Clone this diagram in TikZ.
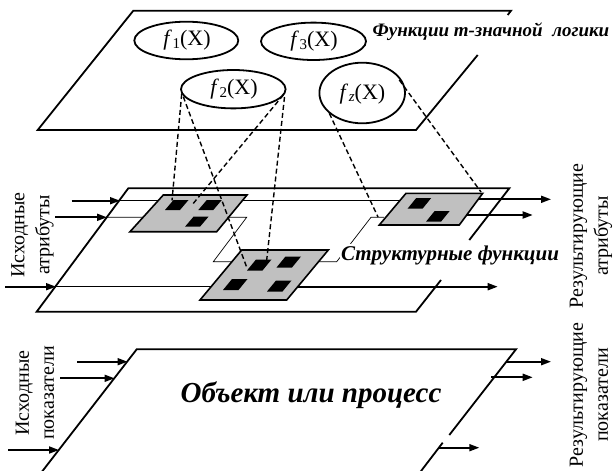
\documentclass[tikz,border=0pt]{standalone}
\usepackage{fontspec}
\setmainfont{Liberation Serif}
\usetikzlibrary{arrows.meta}
\newcommand{\fsub}[1]{\textit{f}\kern0.5pt\raisebox{-2.5pt}{\fontsize{15}{15}\selectfont #1}(X)}
\begin{document}
\begin{tikzpicture}[x=1pt,y=-1pt,
  plane/.style={line width=1.8pt, line join=miter},
  thinl/.style={line width=0.7pt},
  boxg/.style={draw=black, line width=1.6pt, fill={rgb,255:red,192;green,192;blue,192}, line join=miter},
  dl/.style={line width=1.4pt, dash pattern=on 5pt off 3pt},
  arr/.style={line width=1.8pt, -{Triangle[length=10pt,width=7pt]}},
  fell/.style={line width=1.8pt},
  lbl/.style={font=\fontsize{20}{25}\selectfont, align=center, inner sep=0pt},
  bi/.style={font=\bfseries\itshape, inner sep=0pt},
]
\clip (0,0) rectangle (616,471);
\fill[white] (0,0) rectangle (616,471);

% ---------- top plane ----------
\draw[plane] (507.7,15) -- (511,10.7) -- (133.3,10.7) -- (37.7,130) -- (416,130) -- (477.7,55);
\node[bi, font=\fontsize{19}{20}\selectfont\bfseries\itshape] (tlabel) at (491,31.5) {Функции m-значной\ \ логики};

\draw[fell] (186.3,40.5) ellipse [x radius=52, y radius=18.8];
\node[font=\fontsize{22}{24}\selectfont, inner sep=0pt] (f1) at (187,40.5) {\fsub{1}};
\draw[fell] (313.5,41.3) ellipse [x radius=52.5, y radius=18.7];
\node[font=\fontsize{22}{24}\selectfont, inner sep=0pt] (f3) at (314,41.3) {\fsub{3}};
\draw[fell] (233.3,89.2) ellipse [x radius=52.3, y radius=19.2];
\node[font=\fontsize{22}{24}\selectfont, inner sep=0pt] (f2) at (234,89.2) {\fsub{2}};
\draw[fell] (362.2,93) ellipse [x radius=42.8, y radius=30.3];
\node[font=\fontsize{22}{24}\selectfont, inner sep=0pt] (fz) at (362.5,94) {\fsub{\textit{z}}};

\coordinate (f2L1) at (181.7,94);
\coordinate (f2L2) at (183.3,96.7);
\coordinate (f2R1) at (283.3,95);
\coordinate (f2R2) at (284.5,97);
\coordinate (fzL) at (329.3,113.3);
\coordinate (fzR) at (399.3,80);

% ---------- middle plane ----------
\draw[plane] (469.3,240) -- (509.3,188.3) -- (128.3,188.3) -- (36.7,311.7) -- (416,311.7) -- (441,280);

% thin structural lines
\draw[thinl] (119,200.7) -- (400,200.7);
\draw[thinl] (106.8,217.3) -- (246.7,217.3) -- (213.3,261.7) -- (336.7,261.7) -- (371,217.3) -- (384,217.3);
\draw[thinl] (55.3,286.7) -- (240,286.7);

% gray boxes
\draw[boxg] (130,231.7) -- (216.7,231.7) -- (247,195) -- (163.3,195) -- cycle;
\draw[boxg] (200,300) -- (286.7,300) -- (328.3,250) -- (241.7,250) -- cycle;
\draw[boxg] (379.3,225) -- (459.3,225) -- (482.7,193.3) -- (406,193.3) -- cycle;

% black squares
\foreach \p in {(165,210),(198.3,210),(185,226.7)}
  \fill \p -- ++(15,0) -- ++(8.5,-10) -- ++(-15,0) -- cycle;
\foreach \p in {(247,270.5),(276.5,267.5),(223,290),(267,291.5)}
  \fill \p -- ++(15.5,0) -- ++(9,-11) -- ++(-15.5,0) -- cycle;
\foreach \p in {(407.7,208.5),(426,221.7)}
  \fill \p -- ++(15,0) -- ++(8.5,-10.5) -- ++(-15,0) -- cycle;

\coordinate (u1) at (172,200.5);
\coordinate (u2) at (192,205);
\coordinate (l1) at (247,268);
\coordinate (l2) at (266.7,260);
\coordinate (r1) at (378,217);
\coordinate (r2) at (481,192);

% dashed links
\draw[dl] (f2L1) -- (u1);
\draw[dl] (f2L2) -- (l1);
\draw[dl] (f2R1) -- (u2);
\draw[dl] (f2R2) -- (l2);
\draw[dl] (fzL) -- (r1);
\draw[dl] (fzR) -- (r2);

% middle arrows
\coordinate (mi1) at (71.7,200.7);  \coordinate (me1) at (120,200.7);
\coordinate (mi2) at (55,217.3);    \coordinate (me2) at (107,217.3);
\coordinate (mi3) at (5,286.7);     \coordinate (me3) at (56,286.7);
\draw[arr] (mi1) -- (me1);
\draw[arr] (mi2) -- (me2);
\draw[arr] (mi3) -- (me3);
\coordinate (mo1) at (478.5,199.3); \coordinate (mt1) at (551,199.3);
\coordinate (mo2) at (466.7,215);   \coordinate (mt2) at (532.7,215);
\coordinate (mo3) at (297.5,286.7); \coordinate (mt3) at (497.7,286.7);
\draw[arr] (mo1) -- (mt1);
\draw[arr] (mo2) -- (mt2);
\draw[arr] (mo3) -- (mt3);

\node[bi, font=\fontsize{21}{22}\selectfont\bfseries\itshape, fill=white, inner sep=1pt] (slabel) at (450,255) {Структурные функции};

% ---------- bottom plane ----------
\draw[plane] (449.3,435) -- (516,349.3) -- (136.7,349.3) -- (39.4,475);
\draw[plane] (442.7,442.7) -- (418,475);
\node[bi, font=\fontsize{29}{31}\selectfont\bfseries\itshape] (obj) at (311,395) {Объект или процесс};

\coordinate (bi1) at (77.3,361.7); \coordinate (be1) at (127.5,361.7);
\coordinate (bi2) at (60,378.3);   \coordinate (be2) at (114.5,378.3);
\coordinate (bi3) at (8.3,450);    \coordinate (be3) at (59,450);
\draw[arr] (bi1) -- (be1);
\draw[arr] (bi2) -- (be2);
\draw[arr] (bi3) -- (be3);
\coordinate (bo1) at (506.4,361.7); \coordinate (bt1) at (551,361.7);
\coordinate (bo2) at (491,377.3);   \coordinate (bt2) at (532.7,377.3);
\coordinate (bo3) at (439.3,447.7); \coordinate (bt3) at (479.3,447.7);
\draw[arr] (bo1) -- (bt1);
\draw[arr] (bo2) -- (bt2);
\draw[arr] (bo3) -- (bt3);

% ---------- rotated labels ----------
\node[lbl, rotate=90] (inattr) at (32.5,235) {Исходные\\атрибуты};
\node[lbl, rotate=90] (outattr) at (591,236) {Результирующие\\атрибуты};
\node[lbl, rotate=90] (inpok) at (35,393) {Исходные\\показатели};
\node[lbl, rotate=90] (outpok) at (589,395) {Результирующие\\показатели};
\end{tikzpicture}
\end{document}
